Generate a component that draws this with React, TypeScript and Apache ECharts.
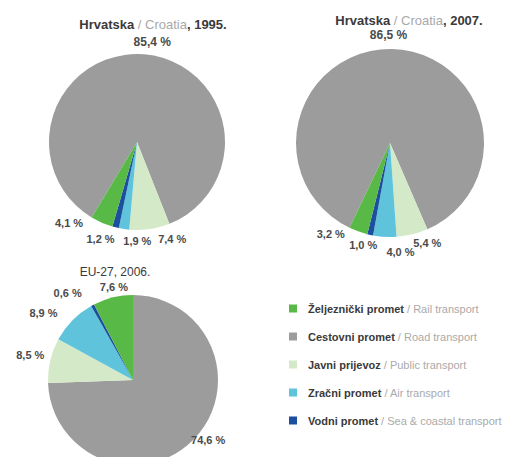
import React, { useEffect, useRef } from 'react';
import * as echarts from 'echarts';

// categories (legend order)
const categories = [
  'Željeznički promet / Rail transport',
  'Cestovni promet / Road transport',
  'Javni prijevoz / Public transport',
  'Zračni promet / Air transport',
  'Vodni promet / Sea & coastal transport',
];
// values per category: rail, road, public, air, sea (%)
const croatia1995 = [4.1, 85.4, 7.4, 1.9, 1.2];
const croatia2007 = [3.2, 86.5, 5.4, 4.0, 1.0];
const eu2006 = [7.6, 74.6, 8.5, 8.9, 0.6];
const titles = [
  ['Hrvatska', 'Croatia', '1995.'],
  ['Hrvatska', 'Croatia', '2007.'],
  ['EU-27', '', '2006.'],
];

// clockwise order in which slices are drawn: road, public, air, sea, rail
const sliceOrder = [1, 2, 3, 4, 0];
const colors = ['#58b947', '#9c9c9c', '#d4e9c7', '#5fc3db', '#1d4f9f'];
const FONT = '"Liberation Sans", Arial, sans-serif';

// label nudges (dx, dy) in slice order
const nudges1 = [[-16, -8], [3, 6], [33, 8], [5, 8], [-12, -3]];
const nudges2 = [[-27, -10], [-5, 5], [35, 11], [13, 6], [-7, -1]];
const nudges3 = [[-11, -2], [3, -5], [-7, -5], [-4, -9], [21, -7]];

const fmt = (p: any) => p.value.toFixed(1).replace('.', ',') + ' %';

function pie(values: number[], center: number[], radius: number, startAngle: number, nudges: number[][], topLabel: boolean) {
  return {
    type: 'pie',
    center,
    radius,
    startAngle,
    clockwise: true,
    avoidLabelOverlap: false,
    silent: true,
    itemStyle: { borderWidth: 0 },
    data: sliceOrder.map((i, k) => ({
      name: categories[i],
      value: values[i],
      itemStyle: { color: colors[i] },
      label: k === 0 && topLabel ? { fontSize: 12 } : undefined,
    })),
    label: {
      show: true,
      position: 'outside',
      formatter: fmt,
      fontSize: 11,
      fontWeight: 'bold',
      color: '#4a4a4a',
      fontFamily: FONT,
    },
    labelLine: { show: false, length: 4, length2: 0 },
    labelLayout: (p: any) => ({ dx: nudges[p.dataIndex][0], dy: nudges[p.dataIndex][1] }),
    emphasis: { disabled: true },
  };
}

function titleText(t: string[], x: number, y: number) {
  const text = t[1]
    ? `{a|${t[0]}}{b| / ${t[1]}}{a|, ${t[2]}}`
    : `{c|${t[0]}, ${t[2]}}`;
  return {
    type: 'text',
    x,
    y,
    style: {
      text,
      align: 'center',
      verticalAlign: 'middle',
      rich: {
        a: { fontSize: 13, fontWeight: 'bold', fill: '#3a3a3a', fontFamily: FONT },
        b: { fontSize: 13, fill: '#a8a8a8', fontFamily: FONT },
        c: { fontSize: 12, fill: '#3a3a3a', fontFamily: FONT },
      },
    },
  };
}

export default function App() {
  const ref = useRef<HTMLDivElement>(null);
  useEffect(() => {
    if (!ref.current) return;
    const chart = echarts.init(ref.current, undefined, { renderer: 'svg' });
    chart.setOption({
      animation: false,
      backgroundColor: '#ffffff',
      color: colors,
      legend: {
        orient: 'vertical',
        left: 284,
        top: 298,
        itemWidth: 8,
        itemHeight: 8,
        itemGap: 17,
        icon: 'rect',
        data: categories,
        selectedMode: false,
        formatter: (name: string) => {
          const [hr, en] = name.split(' / ');
          return `{a|${hr}}{b| / ${en}}`;
        },
        textStyle: {
          fontFamily: FONT,
          rich: {
            a: { fontSize: 11, fontWeight: 'bold', color: '#3a3a3a', fontFamily: FONT, padding: [0, 0, 0, 6] },
            b: { fontSize: 11, color: '#aaaaaa', fontFamily: FONT },
          },
        },
      },
      graphic: [titleText(titles[0], 153, 24), titleText(titles[1], 409, 20), titleText(titles[2], 115, 272)],
      series: [
        pie(croatia1995, [137, 142], 88, 239, nudges1, true),
        pie(croatia2007, [390, 143], 94, 244.5, nudges2, true),
        pie(eu2006, [133, 380], 85, 90, nudges3, false),
      ],
    });
    return () => chart.dispose();
  }, []);
  return <div ref={ref} style={{ position: 'absolute', left: 0, top: 0, width: 517, height: 457 }} />;
}
